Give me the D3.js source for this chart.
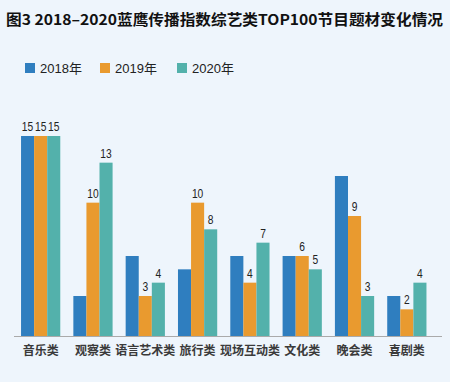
<!DOCTYPE html>
<html lang="zh">
<head>
  <meta charset="UTF-8">
  <title>图3 2018–2020蓝鹰传播指数综艺类TOP100节目题材变化情况</title>
  <style>
    body { margin: 0; background: #eef5fc; }
    svg { display: block; }
    .title { font-family: "Noto Sans CJK SC", sans-serif; font-size: 14.5px; font-weight: bold; fill: #111; }
    .legend text { font-family: "Liberation Sans", "Noto Sans CJK SC", sans-serif; font-size: 13px; fill: #222; }
    .x-axis text { font-family: "Noto Sans CJK SC", sans-serif; font-size: 12px; font-weight: bold; fill: #3a3a3a; }
    .value { font-family: "Liberation Sans", sans-serif; font-size: 13px; fill: #222; text-anchor: middle; }
  </style>
</head>
<body>
  <div id="chart-container"></div>
  <script src="https://d3js.org/d3.v7.min.js"></script>
  <script>
    const categories = ["音乐类", "观察类", "语言艺术类", "旅行类", "现场互动类", "文化类", "晚会类", "喜剧类"];
    const years = ["2018年", "2019年", "2020年"];
    const values2018 = [15, 3, 6, 5, 6, 6, 12, 3];
    const values2019 = [15, 10, 3, 10, 4, 6, 9, 2];
    const values2020 = [15, 13, 4, 8, 7, 5, 3, 4];
    // which bars carry a number label
    const showLabel2018 = [true, false, false, false, false, false, false, false];
    const showLabel2019 = [true, true, true, true, true, true, true, true];
    const showLabel2020 = [true, true, true, true, true, true, true, true];

    const colors = ["#2f7ebf", "#e99a2f", "#53b1ab"];
    const series = [values2018, values2019, values2020];
    const labels = [showLabel2018, showLabel2019, showLabel2020];

    const width = 450, height = 382;
    const baseY = 336, topY = 136;

    const svg = d3.select('#chart-container')
      .append('svg')
      .attr('width', width)
      .attr('height', height);

    svg.append('rect').attr('width', width).attr('height', height).attr('fill', '#eef5fc');

    svg.append('text')
      .attr('class', 'title')
      .attr('x', 6)
      .attr('y', 25)
      .attr('textLength', 437)
      .attr('lengthAdjust', 'spacingAndGlyphs')
      .text('图3 2018–2020蓝鹰传播指数综艺类TOP100节目题材变化情况');

    // legend
    const legend = svg.append('g').attr('class', 'legend');
    const legendX = [25, 100, 177];
    years.forEach((y, i) => {
      legend.append('rect')
        .attr('x', legendX[i]).attr('y', 63)
        .attr('width', 10).attr('height', 10)
        .attr('fill', colors[i]);
      legend.append('text')
        .attr('x', legendX[i] + 15).attr('y', 73)
        .text(y);
    });

    const x0 = d3.scaleBand()
      .domain(categories)
      .range([14.5, 433])
      .paddingInner(0.25)
      .paddingOuter(0.125);

    const x1 = d3.scaleBand()
      .domain(d3.range(years.length))
      .range([0, x0.bandwidth()]);

    const y = d3.scaleLinear()
      .domain([0, 15])
      .range([baseY, topY]);

    const data = categories.map((c, ci) => ({
      category: c,
      bars: series.map((s, si) => ({ si, value: s[ci], label: labels[si][ci] }))
    }));

    const groups = svg.selectAll('.bar-group')
      .data(data)
      .enter()
      .append('g')
      .attr('class', 'bar-group')
      .attr('transform', d => `translate(${x0(d.category)},0)`);

    groups.selectAll('rect')
      .data(d => d.bars)
      .enter()
      .append('rect')
      .attr('x', d => x1(d.si))
      .attr('y', d => y(d.value))
      .attr('width', x1.bandwidth())
      .attr('height', d => baseY - y(d.value))
      .attr('fill', d => colors[d.si]);

    // digits in the original are a bit condensed
    groups.selectAll('.value')
      .data(d => d.bars.filter(b => b.label))
      .enter()
      .append('text')
      .attr('class', 'value')
      .attr('x', d => x1(d.si) + x1.bandwidth() / 2)
      .attr('y', d => y(d.value) - 5)
      .attr('textLength', d => String(d.value).length * 5.7)
      .attr('lengthAdjust', 'spacingAndGlyphs')
      .text(d => d.value);

    // x axis
    const xAxis = svg.append('g')
      .attr('class', 'x-axis')
      .attr('transform', `translate(0, ${baseY})`)
      .call(d3.axisBottom(x0).tickSize(0).tickPadding(10));
    xAxis.select('.domain').remove();
    xAxis.append('line')
      .attr('x1', 14).attr('x2', 442)
      .attr('y1', 0.5).attr('y2', 0.5)
      .attr('stroke', '#aaa')
      .attr('stroke-width', 1);
  </script>
</body>
</html>
